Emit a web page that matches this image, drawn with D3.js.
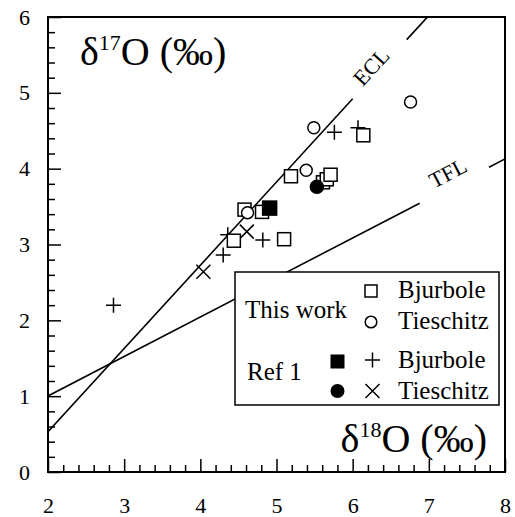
<!DOCTYPE html>
<html>
<head>
<meta charset="utf-8">
<script src="https://cdn.jsdelivr.net/npm/d3@7"></script>
<style>
  html, body { margin: 0; padding: 0; background: #fff; }
  svg { display: block; font-family: "Liberation Serif", "Times New Roman", serif; }
</style>
</head>
<body>
<div id="chart"></div>
<script>
// axis ticks
const xTicks = [2, 3, 4, 5, 6, 7, 8];
const xTickLabels = ["2", "3", "4", "5", "6", "7", "8"];
const yTicks = [0, 1, 2, 3, 4, 5, 6];
const yTickLabels = ["0", "1", "2", "3", "4", "5", "6"];

// [d18O, d17O]
const thisWorkBjurbole = [[4.58, 3.46], [4.81, 3.43], [4.44, 3.05], [5.10, 3.07], [5.19, 3.90],
  [5.61, 3.82], [5.66, 3.86], [5.71, 3.92], [6.14, 4.44]];
const thisWorkTieschitz = [[4.62, 3.42], [5.39, 3.98], [5.49, 4.54], [6.76, 4.88]];
const ref1BjurboleSquare = [[4.91, 3.48]];
const ref1BjurbolePlus = [[2.86, 2.20], [4.36, 3.13], [4.30, 2.86], [4.82, 3.06], [5.76, 4.48], [6.07, 4.54]];
const ref1TieschitzDot = [[5.53, 3.76]];
const ref1TieschitzCross = [[4.04, 2.64], [4.61, 3.17]];

// reference lines: slope, intercept, drawn pieces (gap for the label)
const eclLine = { slope: 1.098, intercept: -1.666, pieces: [[2, 6.0], [6.71, 6.98]], label: "ECL" };
const tflLine = { slope: 0.521, intercept: -0.04, pieces: [[2, 6.88], [7.79, 8]], label: "TFL" };

const width = 515, height = 517;
const margin = { top: 17, right: 10, bottom: 45, left: 48 };

const svg = d3.select("#chart").append("svg")
  .attr("width", width).attr("height", height)
  .attr("font-family", "'Liberation Serif', 'Times New Roman', serif");

const x = d3.scaleLinear().domain([2, 8]).range([margin.left, width - margin.right]);
const y = d3.scaleLinear().domain([0, 6]).range([height - margin.bottom, margin.top]);

svg.append("clipPath").attr("id", "plot-clip")
  .append("rect")
  .attr("x", margin.left).attr("y", margin.top)
  .attr("width", x.range()[1] - x.range()[0])
  .attr("height", y.range()[0] - y.range()[1]);

// ticks (inward, bottom + left only)
const minorX = d3.range(2, 8.0001, 0.2).filter((d) => Math.abs(d - Math.round(d)) > 1e-6);
const minorY = d3.range(0, 6.0001, 0.2).filter((d) => Math.abs(d - Math.round(d)) > 1e-6);

function styleAxis(g) {
  g.select(".domain").remove();
  g.selectAll("line").attr("stroke", "#000").attr("stroke-width", 1.5);
  g.attr("font-family", null).attr("font-size", 22);
  g.selectAll("text").attr("fill", "#000");
}

svg.append("g")
  .attr("transform", `translate(0,${y(0)})`)
  .call(d3.axisBottom(x).tickValues(minorX).tickSize(-7).tickFormat(""))
  .call(styleAxis);
svg.append("g")
  .attr("transform", `translate(0,${y(0)})`)
  .call(d3.axisBottom(x).tickValues(xTicks).tickSize(-13).tickPadding(25)
    .tickFormat((d, i) => xTickLabels[i]))
  .call(styleAxis);
svg.append("g")
  .attr("transform", `translate(${x(2)},0)`)
  .call(d3.axisLeft(y).tickValues(minorY).tickSize(-7).tickFormat(""))
  .call(styleAxis);
svg.append("g")
  .attr("transform", `translate(${x(2)},0)`)
  .call(d3.axisLeft(y).tickValues(yTicks).tickSize(-13).tickPadding(18)
    .tickFormat((d, i) => yTickLabels[i]))
  .call(styleAxis);

// ECL / TFL lines
const plot = svg.append("g").attr("clip-path", "url(#plot-clip)");
const lineGen = d3.line().x((d) => x(d[0])).y((d) => y(d[1]));

function drawRefLine(ln, normalOff, alongOff) {
  const f = (v) => ln.slope * v + ln.intercept;
  ln.pieces.forEach(([a, b]) => {
    plot.append("path")
      .attr("d", lineGen([[a, f(a)], [b, f(b)]]))
      .attr("fill", "none").attr("stroke", "#000").attr("stroke-width", 1.6);
  });
  const g0 = ln.pieces[0][1], g1 = ln.pieces[1][0];
  const px0 = x(g0), py0 = y(f(g0)), px1 = x(g1), py1 = y(f(g1));
  const ang = Math.atan2(py1 - py0, px1 - px0);
  const cx = (px0 + px1) / 2 + Math.cos(ang) * alongOff + Math.sin(ang) * normalOff;
  const cy = (py0 + py1) / 2 + Math.sin(ang) * alongOff - Math.cos(ang) * normalOff;
  svg.append("text")
    .attr("transform", `translate(${cx},${cy}) rotate(${ang * 180 / Math.PI})`)
    .attr("text-anchor", "middle").attr("dy", "0.35em")
    .attr("font-size", 22)
    .text(ln.label);
}
drawRefLine(eclLine, 8, -4);
drawRefLine(tflLine, 14, 0);

// markers
const plusPath = (s) => `M${-s},0H${s}M0,${-s}V${s}`;
const crossPath = (s) => `M${-s},${-s}L${s},${s}M${-s},${s}L${s},${-s}`;
const sq = 13, r = 6;

function squares(g, data, fill, side) {
  g.selectAll(null).data(data).join("rect")
    .attr("x", (d) => x(d[0]) - side / 2).attr("y", (d) => y(d[1]) - side / 2)
    .attr("width", side).attr("height", side)
    .attr("fill", fill).attr("stroke", "#000").attr("stroke-width", 1.5);
}
function circles(g, data, fill, rad) {
  g.selectAll(null).data(data).join("circle")
    .attr("cx", (d) => x(d[0])).attr("cy", (d) => y(d[1])).attr("r", rad)
    .attr("fill", fill).attr("stroke", "#000").attr("stroke-width", 1.5);
}
function strokes(g, data, pathStr) {
  g.selectAll(null).data(data).join("path")
    .attr("transform", (d) => `translate(${x(d[0])},${y(d[1])})`)
    .attr("d", pathStr)
    .attr("fill", "none").attr("stroke", "#000").attr("stroke-width", 1.5);
}

const marks = svg.append("g");
strokes(marks, ref1TieschitzCross, crossPath(7));
strokes(marks, ref1BjurbolePlus, plusPath(7.5));
squares(marks, thisWorkBjurbole, "#fff", sq);
circles(marks, thisWorkTieschitz, "#fff", r);
squares(marks, ref1BjurboleSquare, "#000", 14);
circles(marks, ref1TieschitzDot, "#000", 6.5);

// frame
svg.append("rect")
  .attr("x", margin.left).attr("y", margin.top)
  .attr("width", x.range()[1] - x.range()[0])
  .attr("height", y.range()[0] - y.range()[1])
  .attr("fill", "none").attr("stroke", "#000").attr("stroke-width", 2);

// axis titles
function deltaLabel(px, py, sup, anchor) {
  const t = svg.append("text").attr("x", px).attr("y", py)
    .attr("font-size", 40).attr("text-anchor", anchor);
  t.append("tspan").text("\u03B4");
  t.append("tspan").attr("font-size", 22).attr("dy", -15).text(sup);
  t.append("tspan").attr("dy", 15).text("O (\u2030)");
}
deltaLabel(80, 65, "17", "start");
deltaLabel(487, 452, "18", "end");

// legend
const lg = svg.append("g");
lg.append("rect").attr("x", 235).attr("y", 272).attr("width", 264).attr("height", 133)
  .attr("fill", "#fff").attr("stroke", "#000").attr("stroke-width", 1.5);
const legendText = [
  ["This work", 245, 318], ["Ref 1", 247, 380],
  ["Bjurbole", 398, 298], ["Tieschitz", 398, 329],
  ["Bjurbole", 398, 368], ["Tieschitz", 398, 399]
];
lg.selectAll("text").data(legendText).join("text")
  .attr("x", (d) => d[1]).attr("y", (d) => d[2])
  .attr("font-size", 25).text((d) => d[0]);
lg.append("rect").attr("x", 371 - 6).attr("y", 291 - 6).attr("width", 12).attr("height", 12)
  .attr("fill", "#fff").attr("stroke", "#000").attr("stroke-width", 1.5);
lg.append("circle").attr("cx", 371).attr("cy", 322).attr("r", 5.8)
  .attr("fill", "#fff").attr("stroke", "#000").attr("stroke-width", 1.5);
lg.append("rect").attr("x", 337.5 - 7).attr("y", 361.5 - 7).attr("width", 14).attr("height", 14)
  .attr("fill", "#000");
lg.append("path").attr("transform", "translate(372.5,360)").attr("d", plusPath(7.5))
  .attr("fill", "none").attr("stroke", "#000").attr("stroke-width", 1.5);
lg.append("circle").attr("cx", 337.5).attr("cy", 391).attr("r", 7).attr("fill", "#000");
lg.append("path").attr("transform", "translate(372.5,391)").attr("d", crossPath(7))
  .attr("fill", "none").attr("stroke", "#000").attr("stroke-width", 1.5);
</script>
</body>
</html>
